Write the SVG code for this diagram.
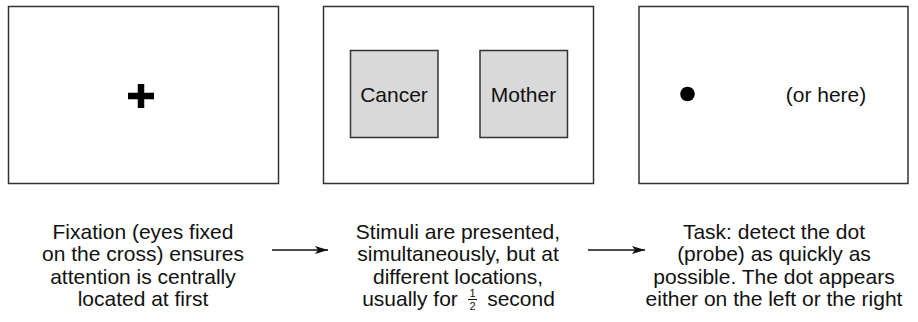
<svg xmlns="http://www.w3.org/2000/svg" width="918" height="322" viewBox="0 0 918 322">
<defs>
<style>
.frame{fill:#fff;stroke:#333;stroke-width:1.5}
.card{fill:#d9d9d9;stroke:#333;stroke-width:1.5}
.t{font-family:"Liberation Sans",Arial,sans-serif;font-size:21px;fill:#111;text-anchor:middle}
.frac{font-family:"Liberation Sans",Arial,sans-serif;font-size:11px;fill:#111;text-anchor:middle}
.conn{stroke:#111;stroke-width:1.5;fill:none}
</style>
<marker id="ah" viewBox="0 0 13 8" refX="13" refY="4" markerWidth="13" markerHeight="8" markerUnits="userSpaceOnUse" orient="auto">
<path d="M0,0 L13,4 L0,8 L3,4 Z" fill="#111"/>
</marker>
</defs>
<rect width="918" height="322" fill="#fff"/>
<g id="screen-fixation">
<rect class="frame" x="8.5" y="6.5" width="270" height="177"/>
<path d="M128,92.75 H154 V99.25 H128 Z M137.75,84 H144.25 V108 H137.75 Z" fill="#000"/>
</g>
<g id="screen-stimuli">
<rect class="frame" x="323.5" y="6.5" width="270" height="177"/>
<rect class="card" x="350.5" y="50.5" width="87.5" height="87"/>
<text class="t" x="394" y="101.5">Cancer</text>
<rect class="card" x="480" y="50.5" width="87.5" height="87"/>
<text class="t" x="523.5" y="101.5">Mother</text>
</g>
<g id="screen-probe">
<rect class="frame" x="639" y="6.5" width="269" height="177"/>
<circle cx="687.5" cy="94" r="7.3" fill="#000"/>
<text class="t" x="826" y="101.5">(or here)</text>
</g>
<g id="caption-fixation">
<text class="t" x="143"><tspan x="143" y="238.5">Fixation (eyes fixed</tspan><tspan x="143" y="261">on the cross) ensures</tspan><tspan x="143" y="283.5">attention is centrally</tspan><tspan x="143" y="306">located at first</tspan></text>
</g>
<g id="caption-stimuli">
<text class="t" x="458"><tspan x="458" y="238.5">Stimuli are presented,</tspan><tspan x="458" y="261">simultaneously, but at</tspan><tspan x="458" y="283.5">different locations,</tspan></text>
<text class="t" x="410" y="306">usually for</text>
<text class="frac" x="472.5" y="296.5">1</text>
<line x1="468" y1="299.5" x2="477" y2="299.5" stroke="#111" stroke-width="1"/>
<text class="frac" x="472.5" y="309.5">2</text>
<text class="t" x="521" y="306">second</text>
</g>
<g id="caption-probe">
<text class="t" x="774"><tspan x="774" y="238.5">Task: detect the dot</tspan><tspan x="774" y="261">(probe) as quickly as</tspan><tspan x="774" y="283.5">possible. The dot appears</tspan><tspan x="774" y="306">either on the left or the right</tspan></text>
</g>
<g id="connectors">
<line class="conn" x1="272" y1="250" x2="328" y2="250" marker-end="url(#ah)"/>
<line class="conn" x1="588" y1="250" x2="645" y2="250" marker-end="url(#ah)"/>
</g>
</svg>
